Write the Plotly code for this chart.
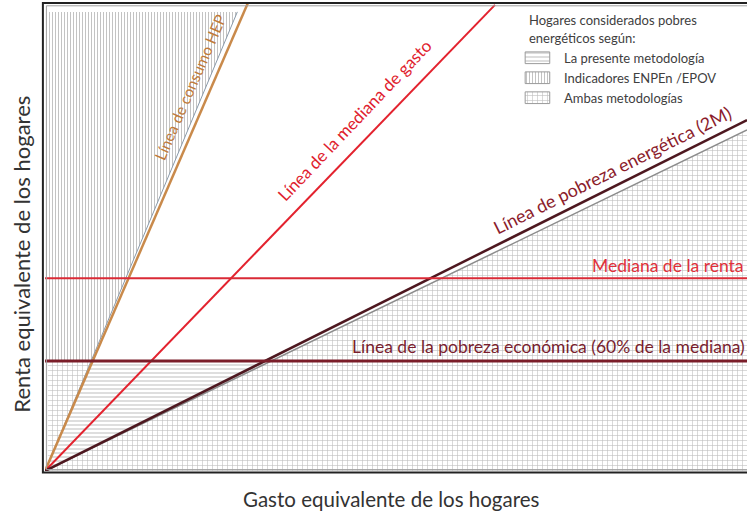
import plotly.graph_objects as go

# ends of the lines drawn from the origin (gasto, renta)
hep_linea = (28.9, 100.0)        # Línea de consumo HEP
hep_borde = (27.4, 98.1)         # borde de la zona ENPEn/EPOV
mediana_gasto = (64.1, 99.6)     # Línea de la mediana de gasto
pobreza_2m = (100.0, 75.0)       # Línea de pobreza energética (2M)
pobreza_2m_borde = (100.0, 72.9)

mediana_renta = 41.2
pobreza_economica = 23.5

gasto_max = 100.0
renta_max = 100.0
zona_izq = 0.4      # hatching starts just inside the frame
zona_sup = 98.1

leyenda_titulo = ['Hogares considerados pobres', 'energéticos según:']
leyenda_items = ['La presente metodología', 'Indicadores ENPEn /EPOV', 'Ambas metodologías']

LINE_COLORS = {
    'hep': '#C98A4B', 'hep_borde': '#8A9AAA', 'mgasto': '#E3222E',
    '2m': '#4E1820', '2m_borde': '#8C8C8C', 'mrenta': '#DA2A36', 'pob': '#7B1E2A',
}
FONT = 'Lato, Open Sans, sans-serif'
TXT = '#404040'


def x_at(line, y):
    """gasto on a line through the origin for a given renta"""
    return y * line[0] / line[1]


x_hep_pob = x_at(hep_borde, pobreza_economica)
x_2m_pob = x_at(pobreza_2m_borde, pobreza_economica)

base = dict(fgcolor='#7a7a7a', bgcolor='rgba(0,0,0,0)')
PATTERNS = [dict(base, shape='-', size=4, solidity=0.25),
            dict(base, shape='|', size=3, solidity=0.3),
            dict(base, shape='+', size=5, solidity=0.22)]

fig = go.Figure()

# La presente metodología: horizontal hatch only
fig.add_trace(go.Scatter(
    x=[0, x_hep_pob, x_2m_pob, 0],
    y=[0, pobreza_economica, pobreza_economica, 0],
    mode='none', fill='toself', fillpattern=PATTERNS[0], hoverinfo='skip'))

# Indicadores ENPEn / EPOV: vertical hatch only
fig.add_trace(go.Scatter(
    x=[zona_izq, zona_izq, x_at(hep_borde, zona_sup), x_hep_pob, zona_izq],
    y=[pobreza_economica, zona_sup, zona_sup, pobreza_economica, pobreza_economica],
    mode='none', fill='toself', fillpattern=PATTERNS[1], hoverinfo='skip'))

# Ambas metodologías: grid
fig.add_trace(go.Scatter(
    x=[zona_izq, zona_izq, x_hep_pob, 0, zona_izq, None,
       0, gasto_max, gasto_max, 0],
    y=[0, pobreza_economica, pobreza_economica, 0, 0, None,
       0, pobreza_2m_borde[1], 0, 0],
    mode='none', fill='toself', fillpattern=PATTERNS[2], hoverinfo='skip'))

# lines through the origin
for key, end, width in [('hep_borde', hep_borde, 1), ('hep', hep_linea, 2.5),
                        ('mgasto', mediana_gasto, 2), ('2m_borde', pobreza_2m_borde, 1.5),
                        ('2m', pobreza_2m, 2.5)]:
    fig.add_trace(go.Scatter(x=[0, end[0]], y=[0, end[1]], mode='lines',
                             line=dict(color=LINE_COLORS[key], width=width),
                             hoverinfo='skip'))

# horizontal lines
fig.add_trace(go.Scatter(x=[0, gasto_max], y=[mediana_renta, mediana_renta], mode='lines',
                         line=dict(color=LINE_COLORS['mrenta'], width=2), hoverinfo='skip'))
fig.add_trace(go.Scatter(x=[0, gasto_max], y=[pobreza_economica, pobreza_economica], mode='lines',
                         line=dict(color=LINE_COLORS['pob'], width=3), hoverinfo='skip'))

# legend drawn by hand on an overlay axis spanning the plot area (0..1)
sw_x0, sw_x1 = 0.684, 0.719
for i, (name, pat) in enumerate(zip(leyenda_items, PATTERNS)):
    yc = 0.883 - i * 0.0427
    h = 0.0125
    fig.add_trace(go.Scatter(
        x=[sw_x0, sw_x1, sw_x1, sw_x0, sw_x0], y=[yc - h, yc - h, yc + h, yc + h, yc - h],
        xaxis='x2', yaxis='y2', mode='lines', line=dict(color='#9a9a9a', width=1),
        fill='toself', fillcolor='rgba(0,0,0,0)', fillpattern=pat, hoverinfo='skip'))
    fig.add_annotation(xref='x2', yref='y2', x=0.737, y=yc, text=name, showarrow=False,
                       xanchor='left', yanchor='middle',
                       font=dict(family=FONT, size=13, color=TXT))
for i, line in enumerate(leyenda_titulo):
    fig.add_annotation(xref='x2', yref='y2', x=0.686, y=0.964 - i * 0.039, text=line,
                       showarrow=False, xanchor='left', yanchor='middle',
                       font=dict(family=FONT, size=13, color=TXT))

# labels on the lines
labels = [
    ('Línea de consumo HEP', 20.7, 82.0, -66.6, '#C07A3A', 15.5),
    ('Línea de la mediana de gasto', 44.0, 75.0, -46.5, '#E0202C', 17),
    ('Línea de pobreza energética (2M)', 80.8, 64.3, -26.5, '#8B1C2C', 18),
]
for text, x, y, ang, color, size in labels:
    fig.add_annotation(x=x, y=y, text=text, textangle=ang, showarrow=False,
                       xanchor='center', yanchor='middle',
                       font=dict(family=FONT, size=size, color=color))

fig.add_annotation(x=99.8, y=44.0, text='Mediana de la renta', showarrow=False,
                   xanchor='right', yanchor='middle',
                   font=dict(family=FONT, size=17.5, color='#E0303A'))
fig.add_annotation(x=100, y=26.7, text='Línea de la pobreza económica (60% de la mediana)',
                   showarrow=False, xanchor='right', yanchor='middle',
                   font=dict(family=FONT, size=17.5, color='#7A1E2E'))

# axis titles
fig.add_annotation(xref='paper', yref='paper', x=0.494, y=-0.029, yanchor='top',
                   text='Gasto equivalente de los hogares', showarrow=False,
                   font=dict(family=FONT, size=20.5, color='#333333'))
fig.add_annotation(xref='paper', yref='paper', x=-0.033, y=0.464, xanchor='center',
                   text='Renta equivalente de los hogares', showarrow=False, textangle=-90,
                   font=dict(family=FONT, size=22, color='#333333'))

# double frame
fig.add_shape(type='rect', xref='paper', yref='paper', x0=-0.003, x1=1.01, y0=-0.003, y1=1.0,
              line=dict(color='#222222', width=2))
fig.add_shape(type='rect', xref='paper', yref='paper', x0=0.002, x1=1.01, y0=0.003, y1=0.994,
              line=dict(color='#a0a0a0', width=1))

fig.update_layout(
    width=747, height=512,
    margin=dict(l=45, r=0, t=3, b=41),
    paper_bgcolor='white', plot_bgcolor='white',
    showlegend=False,
    xaxis=dict(range=[0, gasto_max], visible=False),
    yaxis=dict(range=[0, renta_max], visible=False),
    xaxis2=dict(range=[0, 1], visible=False, overlaying='x'),
    yaxis2=dict(range=[0, 1], visible=False, overlaying='y'),
)

fig.write_html('out.html', config={'displayModeBar': False},
               post_script="document.body.style.margin='0';")
